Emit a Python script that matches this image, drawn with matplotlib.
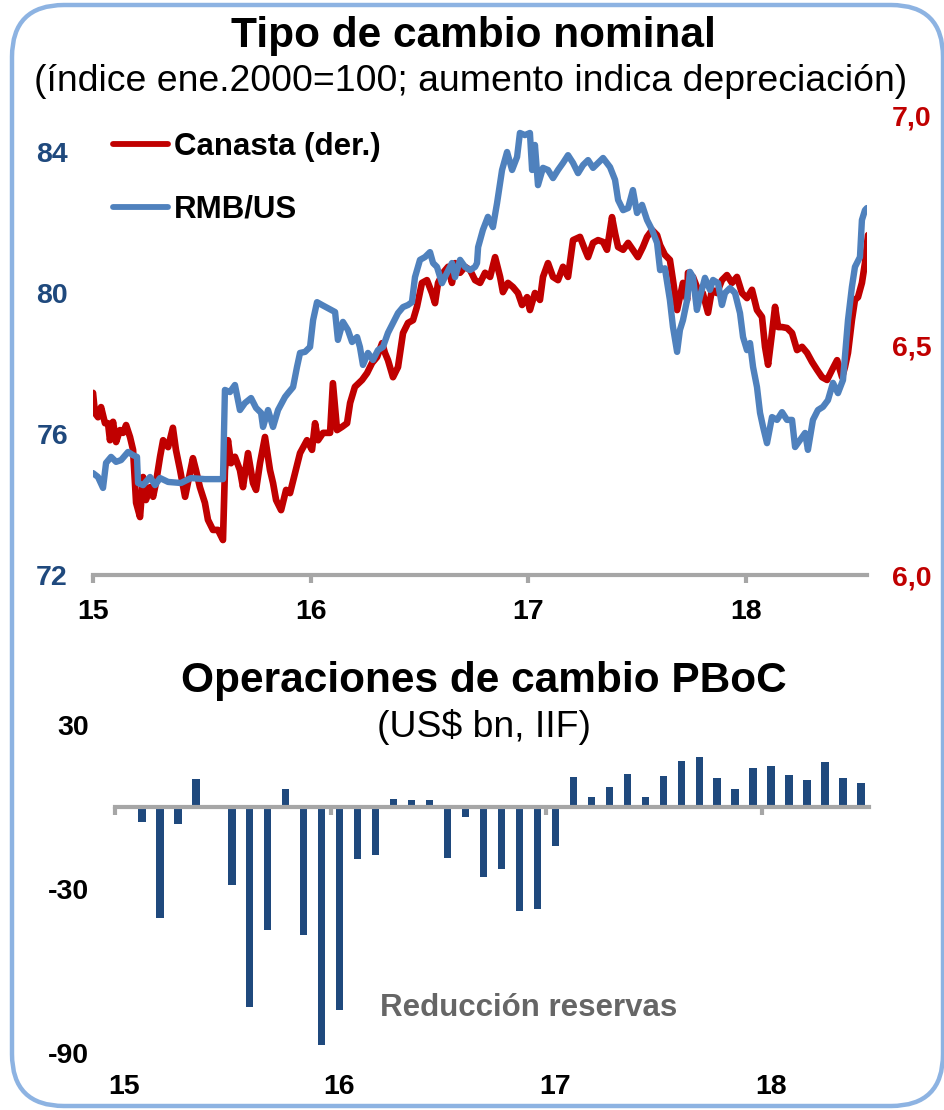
import matplotlib
matplotlib.use("Agg")
import matplotlib.pyplot as plt
import matplotlib.transforms as mtransforms
from matplotlib.patches import FancyBboxPatch
import numpy as np

plt.rcParams['font.family'] = ['Liberation Sans', 'DejaVu Sans']

# ---------------- DATA ----------------
title_top = "Tipo de cambio nominal"
subtitle_top = "(índice ene.2000=100; aumento indica depreciación)"
title_bot = "Operaciones de cambio PBoC"
subtitle_bot = "(US$ bn, IIF)"
note_bot = "Reducción reservas"
legend_labels = ["Canasta (der.)", "RMB/US"]

year_ticks = [2015, 2016, 2017, 2018]
year_labels = ["15", "16", "17", "18"]
left_ticks = [72, 76, 80, 84]
left_labels = ["72", "76", "80", "84"]
right_ticks = [6.0, 6.5, 7.0]
right_labels = ["6,0", "6,5", "7,0"]
bar_ticks = [30, -30, -90]
bar_tick_labels = ["30", "-30", "-90"]

# RMB/US (left axis): time offset in years from Jan-2015, index value
rmb_t = [0.000, 0.023, 0.046, 0.060, 0.083, 0.106, 0.129, 0.161, 0.184, 0.202,
         0.207, 0.230, 0.262, 0.285, 0.308, 0.345, 0.404, 0.450, 0.514, 0.597,
         0.606, 0.629, 0.652, 0.675, 0.698, 0.726, 0.749, 0.772, 0.781, 0.804,
         0.827, 0.850, 0.882, 0.896, 0.919, 0.937, 0.951, 0.974, 0.997, 1.011,
         1.029, 1.052, 1.079, 1.112, 1.125, 1.148, 1.171, 1.190, 1.213, 1.226,
         1.240, 1.263, 1.286, 1.309, 1.332, 1.355, 1.378, 1.401, 1.424, 1.447,
         1.465, 1.479, 1.502, 1.525, 1.548, 1.562, 1.580, 1.603, 1.626, 1.649,
         1.663, 1.686, 1.709, 1.732, 1.755, 1.764, 1.769, 1.791, 1.814, 1.837,
         1.856, 1.879, 1.902, 1.925, 1.948, 1.961, 1.984, 2.007, 2.017, 2.030,
         2.044, 2.067, 2.090, 2.113, 2.136, 2.159, 2.182, 2.205, 2.228, 2.251,
         2.274, 2.297, 2.320, 2.343, 2.375, 2.398, 2.412, 2.435, 2.458, 2.480,
         2.499, 2.522, 2.545, 2.568, 2.591, 2.605, 2.627, 2.650, 2.664, 2.683,
         2.696, 2.710, 2.729, 2.742, 2.756, 2.774, 2.788, 2.811, 2.834, 2.848,
         2.871, 2.889, 2.903, 2.926, 2.949, 2.972, 2.986, 3.004, 3.018, 3.032,
         3.050, 3.064, 3.078, 3.096, 3.119, 3.142, 3.165, 3.188, 3.211, 3.225,
         3.248, 3.271, 3.284, 3.307, 3.330, 3.353, 3.376, 3.399, 3.422, 3.445,
         3.468, 3.486, 3.500, 3.523, 3.532, 3.546, 3.555]
rmb_v = [74.89, 74.78, 74.47, 75.18, 75.35, 75.21, 75.26, 75.49, 75.40, 75.35,
         74.61, 74.55, 74.78, 74.55, 74.75, 74.64, 74.61, 74.75, 74.72, 74.72,
         77.25, 77.19, 77.39, 76.68, 76.88, 77.02, 76.74, 76.60, 76.20, 76.68,
         76.20, 76.68, 77.05, 77.16, 77.33, 77.90, 78.30, 78.33, 78.47, 79.23,
         79.74, 79.66, 79.57, 79.46, 78.67, 79.18, 78.95, 78.61, 78.75, 78.47,
         77.96, 78.30, 78.10, 78.38, 78.47, 78.87, 79.15, 79.43, 79.60, 79.66,
         79.74, 80.45, 80.94, 81.02, 81.16, 80.85, 80.74, 80.28, 80.57, 80.85,
         80.45, 80.94, 80.74, 80.65, 80.74, 80.85, 81.30, 81.79, 82.16, 81.87,
         82.55, 83.49, 84.00, 83.49, 83.86, 84.54, 84.48, 84.54, 83.49, 84.20,
         83.06, 83.55, 83.49, 83.26, 83.49, 83.69, 83.91, 83.69, 83.40, 83.63,
         83.77, 83.55, 83.69, 83.83, 83.57, 83.21, 82.64, 82.35, 82.41, 82.92,
         82.27, 82.50, 82.07, 81.79, 81.42, 80.65, 80.70, 79.80, 79.04, 78.33,
         78.95, 79.23, 79.80, 80.60, 80.45, 79.52, 79.89, 80.43, 80.09, 80.37,
         80.28, 79.66, 80.00, 80.14, 80.00, 79.43, 78.75, 78.38, 78.58, 77.90,
         77.33, 76.60, 76.20, 75.74, 76.48, 76.40, 76.62, 76.40, 76.40, 75.63,
         75.83, 76.03, 75.55, 76.40, 76.68, 76.77, 76.96, 77.45, 77.16, 77.53,
         79.23, 80.17, 80.74, 81.02, 82.07, 82.35, 82.41]

# Canasta (right axis)
can_t = [0.000, 0.009, 0.023, 0.037, 0.055, 0.069, 0.078, 0.092, 0.106, 0.124,
         0.138, 0.152, 0.170, 0.184, 0.198, 0.216, 0.230, 0.243, 0.262, 0.276,
         0.289, 0.308, 0.322, 0.345, 0.367, 0.381, 0.400, 0.423, 0.436, 0.459,
         0.473, 0.491, 0.514, 0.528, 0.551, 0.574, 0.597, 0.606, 0.620, 0.634,
         0.652, 0.675, 0.689, 0.712, 0.735, 0.749, 0.767, 0.790, 0.813, 0.827,
         0.841, 0.864, 0.887, 0.905, 0.928, 0.951, 0.983, 1.006, 1.020, 1.034,
         1.057, 1.089, 1.102, 1.121, 1.144, 1.167, 1.181, 1.203, 1.236, 1.259,
         1.282, 1.305, 1.328, 1.341, 1.355, 1.378, 1.401, 1.424, 1.447, 1.470,
         1.488, 1.511, 1.534, 1.557, 1.571, 1.585, 1.608, 1.631, 1.649, 1.663,
         1.686, 1.709, 1.732, 1.755, 1.778, 1.801, 1.824, 1.847, 1.870, 1.883,
         1.906, 1.929, 1.952, 1.971, 1.994, 2.007, 2.030, 2.053, 2.067, 2.090,
         2.113, 2.136, 2.159, 2.182, 2.205, 2.237, 2.260, 2.274, 2.297, 2.320,
         2.343, 2.361, 2.384, 2.398, 2.412, 2.435, 2.458, 2.480, 2.503, 2.526,
         2.545, 2.568, 2.591, 2.605, 2.627, 2.650, 2.664, 2.683, 2.696, 2.710,
         2.729, 2.733, 2.756, 2.779, 2.801, 2.825, 2.843, 2.866, 2.889, 2.912,
         2.935, 2.958, 2.981, 3.004, 3.027, 3.050, 3.073, 3.087, 3.101, 3.119,
         3.133, 3.147, 3.165, 3.188, 3.211, 3.234, 3.257, 3.280, 3.303, 3.326,
         3.349, 3.372, 3.395, 3.418, 3.441, 3.454, 3.468, 3.486, 3.500, 3.514,
         3.532, 3.546, 3.560]
can_v = [6.396, 6.352, 6.343, 6.365, 6.330, 6.330, 6.293, 6.333, 6.289, 6.315,
         6.309, 6.326, 6.300, 6.272, 6.157, 6.126, 6.213, 6.163, 6.191, 6.170,
         6.200, 6.257, 6.293, 6.278, 6.320, 6.272, 6.228, 6.170, 6.200, 6.254,
         6.228, 6.191, 6.157, 6.120, 6.098, 6.098, 6.076, 6.228, 6.293, 6.243,
         6.257, 6.228, 6.191, 6.265, 6.200, 6.185, 6.243, 6.300, 6.228, 6.200,
         6.163, 6.141, 6.185, 6.178, 6.222, 6.265, 6.293, 6.272, 6.330, 6.293,
         6.309, 6.309, 6.417, 6.315, 6.322, 6.330, 6.374, 6.409, 6.424, 6.439,
         6.461, 6.474, 6.504, 6.483, 6.467, 6.430, 6.452, 6.526, 6.548, 6.554,
         6.583, 6.635, 6.641, 6.613, 6.591, 6.635, 6.657, 6.670, 6.635, 6.678,
         6.657, 6.670, 6.663, 6.641, 6.635, 6.657, 6.648, 6.691, 6.648, 6.615,
         6.635, 6.626, 6.613, 6.587, 6.604, 6.576, 6.613, 6.598, 6.648, 6.678,
         6.648, 6.641, 6.670, 6.648, 6.728, 6.735, 6.707, 6.691, 6.722, 6.728,
         6.724, 6.707, 6.778, 6.743, 6.713, 6.707, 6.722, 6.707, 6.691, 6.713,
         6.735, 6.750, 6.739, 6.717, 6.696, 6.685, 6.641, 6.576, 6.604, 6.635,
         6.598, 6.657, 6.648, 6.620, 6.613, 6.570, 6.620, 6.613, 6.641, 6.652,
         6.635, 6.648, 6.613, 6.602, 6.620, 6.576, 6.561, 6.496, 6.457, 6.526,
         6.583, 6.539, 6.539, 6.537, 6.526, 6.489, 6.496, 6.483, 6.463, 6.446,
         6.430, 6.424, 6.446, 6.467, 6.430, 6.452, 6.483, 6.554, 6.598, 6.604,
         6.635, 6.678, 6.739]

# PBoC FX operations, monthly Jan-2015 .. Jun-2018 (US$ bn)
pboc_month = list(range(42))
pboc_val = [0.0, -5.6, -40.5, -6.4, 10.4, 0.0, -28.5, -73.0, -45.0, 6.6,
            -46.7, -87.0, -74.4, -19.0, -17.6, 3.0, 2.7, 2.4, -18.7, -3.8,
            -25.6, -22.8, -38.0, -37.3, -14.4, 11.1, 3.8, 7.5, 12.2, 3.8,
            11.5, 17.0, 18.4, 10.7, 6.7, 14.4, 15.1, 11.8, 10.0, 16.4,
            10.5, 8.7]

# ---------------- STYLE ----------------
RED = '#C00000'
BLUE = '#4F81BD'
NAVY = '#1F497D'
GRAY = '#A6A6A6'
W, H = 945, 1110
TICK_FS = 20.5

fig = plt.figure(figsize=(W / 100, H / 100), dpi=100)

# rounded frame
frame = FancyBboxPatch((12, 4), 931, 1101, boxstyle="round,pad=0,rounding_size=52",
                       transform=None, fill=False, edgecolor='#8DB3E2', linewidth=3.2)
fig.patches.append(frame)

# ---------------- TOP CHART ----------------
ax = fig.add_axes([93 / W, 1 - 575 / H, (867 - 93) / W, (575 - 115) / H])
ax2 = ax.twinx()
ax.set_zorder(ax2.get_zorder() + 1)
ax.patch.set_visible(False)

t_r = 2015 + np.array(rmb_t)
t_c = 2015 + np.array(can_t)
l_can, = ax2.plot(t_c, can_v, color=RED, lw=4.8, solid_joinstyle='round', solid_capstyle='round')
l_rmb, = ax.plot(t_r, rmb_v, color=BLUE, lw=4.6, solid_joinstyle='round', solid_capstyle='round')

ax.set_xlim(2015, 2015 + (867 - 93) / 217.7)
ax.set_ylim(72, 72 + 460 / 35.25)
ax2.set_ylim(6.0, 7.0)

ax.set_yticks(left_ticks)
ax.set_yticklabels(left_labels, fontsize=TICK_FS, fontweight='bold', color=NAVY)
ax.tick_params(axis='y', length=0, pad=18)
ax2.set_yticks(right_ticks)
ax2.set_yticklabels(right_labels, fontsize=TICK_FS, fontweight='bold', color=RED)
ax2.tick_params(axis='y', length=0, pad=18)

ax.set_xticks(year_ticks)
ax.set_xticklabels(year_labels, fontsize=TICK_FS, fontweight='bold', color='black')
ax.tick_params(axis='x', direction='out', length=6, width=3, color=GRAY, pad=11)
for a in (ax, ax2):
    for s in ['top', 'left', 'right', 'bottom']:
        a.spines[s].set_visible(False)
ax.spines['bottom'].set_visible(True)
ax.spines['bottom'].set_color(GRAY)
ax.spines['bottom'].set_linewidth(3)

leg = ax.legend([l_can, l_rmb], legend_labels, loc='upper left',
                bbox_to_anchor=(113 / W, 1 - 132 / H), bbox_transform=fig.transFigure,
                frameon=False, handlelength=1.75, handletextpad=0.2, labelspacing=1.05,
                borderpad=0, borderaxespad=0,
                prop={'weight': 'bold', 'size': 22.5})
for line in leg.get_lines():
    line.set_linewidth(4.2)

fig.text(473 / W, 1 - 47 / H, title_top, ha='center', va='baseline',
         fontsize=30.5, fontweight='bold')
fig.text(471 / W, 1 - 91 / H, subtitle_top, ha='center', va='baseline', fontsize=26.9)

# ---------------- BOTTOM CHART ----------------
bx = fig.add_axes([115 / W, 1 - 1053 / H, (869 - 115) / W, (1053 - 725) / H])
bar_x = 2015 + (np.array(pboc_month) + 0.5) / 12
bx.bar(bar_x, pboc_val, width=0.034, color=NAVY, zorder=2)
bx.set_xlim(2015, 2015 + 754 / 215.7)
bx.set_ylim(-90, 30)
bx.set_yticks(bar_ticks)
bx.set_yticklabels(bar_tick_labels, fontsize=TICK_FS, fontweight='bold')
bx.tick_params(axis='y', length=0, pad=19)
for s in ['top', 'left', 'right']:
    bx.spines[s].set_visible(False)
bx.spines['bottom'].set_position(('data', 0))
bx.spines['bottom'].set_color(GRAY)
bx.spines['bottom'].set_linewidth(3)
bx.spines['bottom'].set_zorder(3)
bx.set_xticks(year_ticks)
bx.set_xticklabels([''] * len(year_ticks))
bx.tick_params(axis='x', direction='out', length=6, width=3, color=GRAY)
trans = mtransforms.blended_transform_factory(bx.transData, bx.transAxes)
for yt, lab in zip(year_ticks, year_labels):
    bx.text(yt + 0.04, -0.104, lab, transform=trans, ha='center', va='center',
            fontsize=TICK_FS, fontweight='bold')

fig.text(484 / W, 1 - 692 / H, title_bot, ha='center', va='baseline',
         fontsize=30.5, fontweight='bold')
fig.text(484 / W, 1 - 737 / H, subtitle_bot, ha='center', va='baseline', fontsize=26.9)
fig.text(529 / W, 1 - 1016 / H, note_bot, ha='center', va='baseline',
         fontsize=22.5, fontweight='bold', color='#666666')

fig.savefig('out.png', dpi=100)
